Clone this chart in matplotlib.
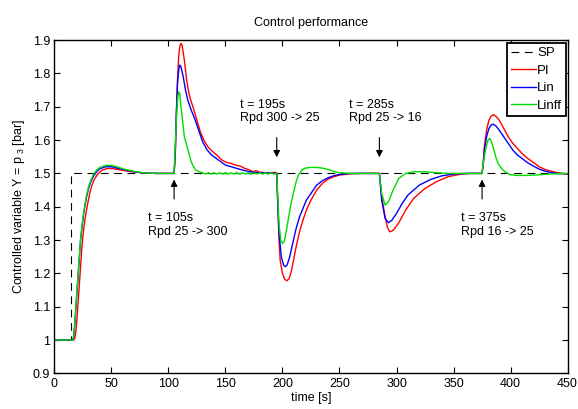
import matplotlib
matplotlib.use("Agg")
from matplotlib import pyplot as plt

plt.rcParams['font.family'] = ['Liberation Sans', 'DejaVu Sans']
plt.rcParams['mathtext.fontset'] = 'custom'
plt.rcParams['mathtext.rm'] = 'Liberation Sans'
plt.rcParams['mathtext.default'] = 'regular'

# setpoint
sp_t = [0, 15, 15, 450]
sp_y = [1.0, 1.0, 1.5, 1.5]

# PI controller (red)
pi_t = [0, 17, 18, 19, 20, 21, 22, 23, 24, 25, 26, 27, 29, 31, 33, 35, 38, 42, 47, 52, 57, 62, 70, 80, 90, 105,
        106, 107, 108, 109, 110, 111, 112, 114, 116, 118, 120, 122, 125, 128, 131, 135, 139, 143, 147, 151,
        155, 160, 163, 167, 170, 174, 177, 180, 185, 190, 194, 195,
        196, 197, 198, 200, 202, 204, 206, 208, 210, 212, 215, 218, 221, 225, 230, 235, 240, 245, 250, 260, 270, 285,
        287, 290, 292, 294, 296, 298, 302, 308, 315, 325, 335, 345, 355, 365, 375,
        376, 377, 379, 381, 383, 385, 387, 390, 394, 398, 402, 406, 410, 415, 420, 425, 430, 435, 440, 445, 450]
pi_y = [1.0, 1.0, 1.005, 1.03, 1.07, 1.12, 1.17, 1.22, 1.27, 1.31, 1.34, 1.365, 1.405, 1.44, 1.465, 1.482, 1.498, 1.51, 1.515, 1.514, 1.511, 1.508, 1.504, 1.501, 1.5, 1.5,
        1.55, 1.68, 1.78, 1.85, 1.88, 1.89, 1.885, 1.84, 1.78, 1.74, 1.715, 1.695, 1.66, 1.625, 1.6, 1.578, 1.565, 1.553, 1.54, 1.533,
        1.53, 1.524, 1.522, 1.515, 1.512, 1.505, 1.508, 1.504, 1.502, 1.502, 1.503, 1.5,
        1.4, 1.3, 1.24, 1.2, 1.182, 1.178, 1.185, 1.21, 1.245, 1.28, 1.325, 1.36, 1.39, 1.42, 1.45, 1.47, 1.483, 1.49, 1.495, 1.499, 1.5, 1.5,
        1.43, 1.37, 1.338, 1.325, 1.327, 1.333, 1.352, 1.39, 1.425, 1.455, 1.475, 1.49, 1.497, 1.5, 1.5,
        1.53, 1.58, 1.63, 1.66, 1.672, 1.676, 1.672, 1.66, 1.635, 1.61, 1.59, 1.575, 1.56, 1.545, 1.533, 1.52, 1.512, 1.507, 1.503, 1.5, 1.498]

# Lin controller (blue)
lin_t = [0, 16, 17, 18, 19, 20, 21, 22, 23, 24, 25, 26, 28, 30, 32, 34, 37, 40, 45, 50, 55, 60, 70, 80, 90, 105,
         106, 107, 108, 109, 110, 111, 113, 115, 117, 120, 123, 126, 130, 134, 138, 142, 146, 150, 155, 160, 165,
         170, 175, 180, 185, 195,
         196, 197, 199, 201, 202.5, 204, 206, 209, 212, 215, 218, 221, 225, 230, 235, 240, 245, 250, 260, 285,
         287, 290, 293, 296, 300, 305, 310, 320, 330, 340, 350, 360, 375,
         376, 377, 379, 381, 383, 384.5, 387, 390, 394, 398, 402, 406, 410, 415, 420, 425, 430, 435, 440, 450]
lin_y = [1.0, 1.0, 1.01, 1.05, 1.1, 1.15, 1.2, 1.25, 1.3, 1.33, 1.36, 1.385, 1.425, 1.455, 1.475, 1.49, 1.505, 1.514, 1.52, 1.52, 1.516, 1.512, 1.505, 1.501, 1.5, 1.5,
         1.56, 1.68, 1.77, 1.81, 1.825, 1.82, 1.79, 1.75, 1.72, 1.69, 1.665, 1.635, 1.595, 1.57, 1.555, 1.545, 1.535, 1.525, 1.52, 1.515, 1.51,
         1.506, 1.503, 1.502, 1.501, 1.5,
         1.4, 1.32, 1.25, 1.225, 1.22, 1.225, 1.245, 1.29, 1.335, 1.37, 1.395, 1.42, 1.44, 1.465, 1.478, 1.487, 1.493, 1.497, 1.5, 1.5,
         1.42, 1.365, 1.352, 1.36, 1.38, 1.41, 1.435, 1.465, 1.482, 1.493, 1.498, 1.5, 1.5,
         1.525, 1.57, 1.61, 1.635, 1.645, 1.648, 1.643, 1.63, 1.61, 1.59, 1.57, 1.555, 1.545, 1.532, 1.522, 1.513, 1.507, 1.503, 1.5, 1.499]

# Lin + feedforward (green)
linff_t = [0, 16, 17, 18, 19, 20, 21, 22, 23, 24, 25, 26, 28, 30, 32, 34, 37, 40, 45, 50, 55, 60, 70, 80, 90, 105,
           106, 107, 108, 109, 110, 111, 112, 113, 114, 116, 118, 120, 122, 124, 127, 130,
           132.5, 135, 137.5, 140, 142.5, 145, 147.5, 150, 152.5, 155, 157.5, 160, 162.5, 165, 167.5, 170,
           172.5, 175, 177.5, 180, 182.5, 185, 187.5, 190, 192.5, 195,
           196, 197, 198.5, 200, 201.5, 203, 205, 207, 209.5, 212, 214, 217, 220, 225, 230, 235, 240, 245, 250, 260, 285,
           287, 290, 293, 297, 302, 308, 315, 325, 335, 345, 375,
           376, 378, 380, 381.5, 383, 385, 387, 389, 392, 395, 399, 405, 415, 425, 435, 445, 450]
linff_y = [1.0, 1.0, 1.012, 1.055, 1.105, 1.155, 1.205, 1.255, 1.305, 1.335, 1.365, 1.39, 1.43, 1.46, 1.48, 1.495, 1.51, 1.518, 1.524, 1.524, 1.52, 1.514, 1.506, 1.501, 1.5, 1.5,
           1.58, 1.66, 1.72, 1.745, 1.74, 1.7, 1.67, 1.64, 1.61, 1.585, 1.56, 1.535, 1.52, 1.51, 1.505, 1.502,
           1.498, 1.502, 1.498, 1.502, 1.498, 1.502, 1.498, 1.502, 1.498, 1.502, 1.498, 1.502, 1.498, 1.502, 1.498, 1.502,
           1.498, 1.502, 1.498, 1.502, 1.498, 1.502, 1.498, 1.502, 1.498, 1.5,
           1.42, 1.35, 1.3, 1.29, 1.295, 1.32, 1.36, 1.4, 1.44, 1.475, 1.495, 1.51, 1.516, 1.518, 1.518, 1.516, 1.512, 1.506, 1.502, 1.5, 1.5,
           1.44, 1.405, 1.415, 1.45, 1.485, 1.5, 1.505, 1.505, 1.502, 1.5, 1.5,
           1.53, 1.57, 1.598, 1.605, 1.598, 1.575, 1.55, 1.53, 1.515, 1.505, 1.497, 1.494, 1.494, 1.496, 1.498, 1.5, 1.5]

# annotations: (time, text y, arrow tail, arrow tip, label, text x)
notes = [(105, 1.345, 1.415, 1.49, "t = 105s\nRpd 25 -> 300", 82.0),
         (195, 1.686, 1.616, 1.54, "t = 195s\nRpd 300 -> 25", 162.7),
         (285, 1.686, 1.616, 1.54, "t = 285s\nRpd 25 -> 16", 258.3),
         (375, 1.345, 1.415, 1.49, "t = 375s\nRpd 16 -> 25", 356.3)]

fig = plt.figure(figsize=(5.78, 4.09), dpi=100)
ax = fig.add_axes([0.094, 0.087, 0.888, 0.815])

ax.plot(sp_t, sp_y, color='k', lw=0.8, dashes=(7, 5), label='SP')
ax.plot(pi_t, pi_y, color='#ff0000', lw=1.0, label='PI')
ax.plot(lin_t, lin_y, color='#0000ff', lw=1.0, label='Lin')
ax.plot(linff_t, linff_y, color='#00dd00', lw=1.0, label='Linff')

for t, ty, tail, tip, label, tx in notes:
    ax.annotate('', xy=(t, tip), xytext=(t, tail),
                arrowprops=dict(arrowstyle='-|>', color='k', lw=0.8, mutation_scale=10))
    ax.text(tx, ty, label, fontsize=9, ha='left', va='center')

ax.set_xlim(0, 450)
ax.set_ylim(0.9, 1.9)
ax.set_xticks(range(0, 451, 50))
ax.set_yticks([0.9, 1.0, 1.1, 1.2, 1.3, 1.4, 1.5, 1.6, 1.7, 1.8, 1.9])
ax.set_yticklabels(['0.9', '1', '1.1', '1.2', '1.3', '1.4', '1.5', '1.6', '1.7', '1.8', '1.9'])
ax.tick_params(direction='in', top=True, right=True, labelsize=9, length=4, width=0.8, pad=3)
for s in ax.spines.values():
    s.set_linewidth(1.0)

ax.set_title("Control performance", fontsize=9, pad=10)
ax.set_xlabel("time [s]", fontsize=9, labelpad=2)
ax.set_ylabel("Controlled variable Y = p$_{\\ 3}$ [bar]", fontsize=9, labelpad=4)

leg = ax.legend(loc='upper right', bbox_to_anchor=(0.997, 0.991), borderaxespad=0, fontsize=9.5,
                handlelength=1.9, handletextpad=0.1, labelspacing=0.4, borderpad=0.3,
                fancybox=False, framealpha=1, edgecolor='k')
leg.get_frame().set_linewidth(1.3)

plt.savefig("out.png", dpi=100)
plt.close()
